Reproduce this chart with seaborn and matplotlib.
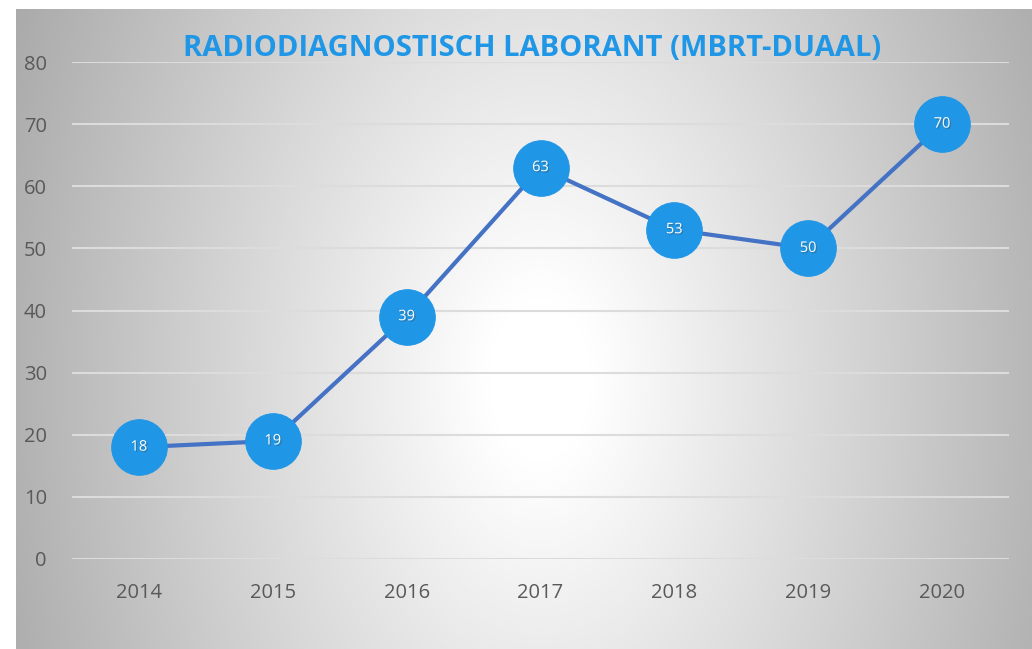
import numpy as np
import pandas as pd
import matplotlib
matplotlib.use("Agg")
import matplotlib.pyplot as plt
import matplotlib.patheffects as pe
import seaborn as sns

# data
years = ["2014", "2015", "2016", "2017", "2018", "2019", "2020"]
counts = [18, 19, 39, 63, 53, 50, 70]
y_ticks = [0, 10, 20, 30, 40, 50, 60, 70, 80]
TITLE = "RADIODIAGNOSTISCH LABORANT (MBRT-DUAAL)"

BLUE = "#1f96e6"
LINE = "#4472c4"
TXT = "#595959"

sns.set_theme(style="white")
plt.rcParams["font.family"] = ["Open Sans", "DejaVu Sans"]

W, H = 1032, 649
fig = plt.figure(figsize=(W / 100, H / 100), dpi=100)
fig.patch.set_facecolor("white")

# elliptical gradient background panel (white centre, grey edges)
bg = fig.add_axes([16 / W, 0, 1 - 16 / W, 1 - 9 / H])
bg.set_axis_off()
gx, gy = np.meshgrid(np.linspace(16, W, 400), np.linspace(9, H, 260))
r = np.sqrt(((gx - 540) / 524) ** 2 + ((gy - 380) / 371 * 0.45) ** 2)
dark = 0.30 * np.clip((r - 0.1) / 0.9, 0, None)
shade = np.clip(1.0 - dark, 0.6, 1.0)
bg.imshow(np.dstack([shade] * 3), aspect="auto", extent=[0, 1, 0, 1], origin="upper")

ax = fig.add_axes([72 / W, (H - 559) / H, (1009 - 72) / W, (559 - 62) / H])
ax.set_facecolor("none")

df = pd.DataFrame({"year": years, "count": counts})
sns.lineplot(data=df, x="year", y="count", ax=ax, color=LINE, linewidth=3,
             marker="o", markersize=40, markerfacecolor=BLUE,
             markeredgecolor=BLUE, sort=False, zorder=3)

for i, v in enumerate(counts):
    ax.text(i, v, str(v), ha="center", va="center", color="white", fontsize=10.5,
            zorder=5, path_effects=[pe.withSimplePatchShadow(offset=(1, -1), alpha=0.4)])

ax.set_xlim(-0.5, len(years) - 0.5)
ax.set_ylim(0, 80)
ax.set_yticks(y_ticks)
ax.yaxis.grid(True, color="#dcdcdc", linewidth=1.5, zorder=0)
ax.set_axisbelow(True)
for s in ax.spines.values():
    s.set_visible(False)
ax.tick_params(axis="both", length=0, labelcolor=TXT, labelsize=14.5)
ax.tick_params(axis="y", pad=18)
ax.tick_params(axis="x", pad=17)
ax.set_xlabel("")
ax.set_ylabel("")

fig.text(532 / W, 1 - 48 / H, TITLE, ha="center", va="center", color=BLUE,
         fontsize=21, fontweight="bold")

fig.savefig("out.png", dpi=100)
